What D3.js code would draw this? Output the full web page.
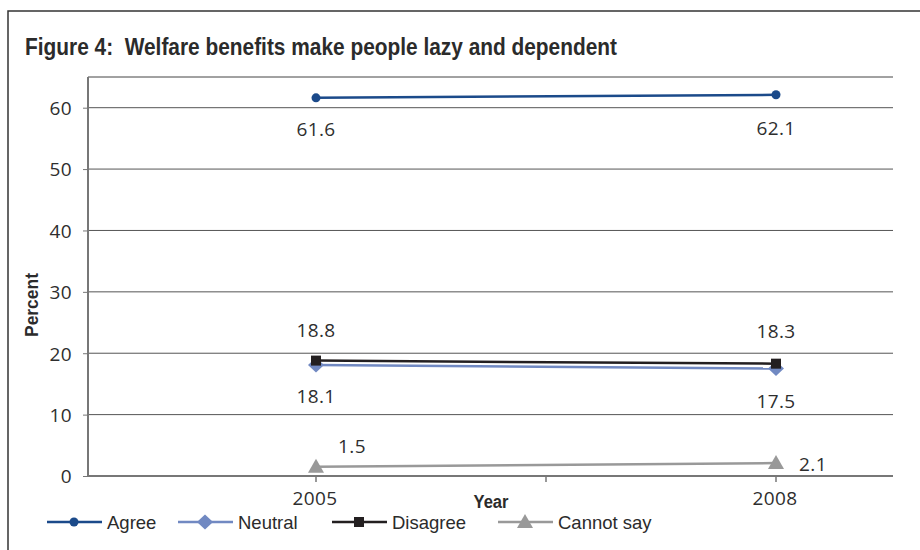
<!DOCTYPE html>
<html>
<head>
<meta charset="utf-8">
<script src="https://cdn.jsdelivr.net/npm/d3@7"></script>
<style>
  html, body { margin: 0; padding: 0; background: #fff; }
  svg { display: block; }
  text { font-family: "Liberation Sans", Arial, sans-serif; fill: #2b2b2b; }
  .num { font-family: "Open Sans", "Liberation Sans", sans-serif; font-size: 19px; fill: #2e2e2e; letter-spacing: 0.4px; }
</style>
</head>
<body>
<svg id="chart" width="920" height="550"></svg>
<script>
// Survey years and responses (percent)
const years = ["2005", "2008"];
const agree = [61.6, 62.1];
const neutral = [18.1, 17.5];
const disagree = [18.8, 18.3];
const cannotSay = [1.5, 2.1];
const yTicks = [0, 10, 20, 30, 40, 50, 60];
const seriesNames = ["Agree", "Neutral", "Disagree", "Cannot say"];

// label offsets relative to each point: [dx, dy] per year
const series = [
  { name: seriesNames[0], values: agree, color: "#1b4a8a", marker: "circle", anchor: "middle", offsets: [[0, 38], [0, 40]] },
  { name: seriesNames[1], values: neutral, color: "#7189c2", marker: "diamond", anchor: "middle", offsets: [[0, 38.5], [0, 39.5]] },
  { name: seriesNames[2], values: disagree, color: "#231f20", marker: "square", anchor: "middle", offsets: [[0, -23.5], [0, -25.5]] },
  { name: seriesNames[3], values: cannotSay, color: "#999999", marker: "triangle", anchor: "start", offsets: [[22, -14], [23, 8]] }
];

const svg = d3.select("#chart");

// outer frame
svg.append("rect").attr("x", 8).attr("y", 11).attr("width", 930).attr("height", 560)
  .attr("fill", "none").attr("stroke", "#333").attr("stroke-width", 1.5);

// title
svg.append("text")
  .attr("x", 25).attr("y", 55)
  .attr("font-size", 24).attr("font-weight", "bold")
  .attr("fill", "#231f20")
  .style("white-space", "pre")
  .attr("textLength", 592).attr("lengthAdjust", "spacingAndGlyphs")
  .text("Figure 4:\u00a0\u00a0Welfare benefits make people lazy and dependent");

const plot = { left: 88, right: 893, top: 77, bottom: 476 };

const y = d3.scaleLinear().domain([0, 65]).range([plot.bottom, plot.top]);
const x = d3.scalePoint().domain(years).range([316, 776]);

// gridlines
svg.append("g").selectAll("line").data(yTicks.filter(d => d > 0)).join("line")
  .attr("x1", plot.left).attr("x2", plot.right)
  .attr("y1", d => y(d)).attr("y2", d => y(d))
  .attr("stroke", "#555").attr("stroke-width", 1);
// top border of plot area
svg.append("line").attr("x1", plot.left).attr("x2", plot.right)
  .attr("y1", plot.top).attr("y2", plot.top)
  .attr("stroke", "#444").attr("stroke-width", 1);

// y axis
const yAxis = d3.axisLeft(y).tickValues(yTicks).tickSize(5).tickPadding(11);
const gy = svg.append("g").attr("transform", `translate(${plot.left},0)`).call(yAxis);
gy.select(".domain").attr("stroke", "#777").attr("stroke-width", 2)
  .attr("d", `M0,${plot.top}V${plot.bottom}`);
gy.selectAll(".tick line").attr("stroke", "#777");
gy.selectAll(".tick text").attr("class", "num").attr("font-size", null).attr("font-family", null)
  .attr("fill", null).attr("dy", "0.36em");

// x axis
const gx = svg.append("g").attr("transform", `translate(0,${plot.bottom})`);
gx.append("line").attr("x1", plot.left).attr("x2", plot.right)
  .attr("stroke", "#777").attr("stroke-width", 2);
const midX = (x(years[0]) + x(years[1])) / 2;
gx.selectAll("line.tk").data([x(years[0]), midX, x(years[1])]).join("line")
  .attr("class", "tk").attr("x1", d => d).attr("x2", d => d)
  .attr("y1", 0).attr("y2", 6).attr("stroke", "#777").attr("stroke-width", 1.5);
gx.selectAll("text").data(years).join("text")
  .attr("class", "num")
  .attr("x", d => x(d) - 1).attr("y", 29).attr("text-anchor", "middle")
  .text(d => d);

// axis titles
svg.append("text")
  .attr("x", 491).attr("y", 508).attr("text-anchor", "middle")
  .attr("font-size", 18).attr("font-weight", "bold").attr("fill", "#231f20")
  .attr("textLength", 35).attr("lengthAdjust", "spacingAndGlyphs").text("Year");
svg.append("text")
  .attr("transform", "translate(38,305) rotate(-90)").attr("text-anchor", "middle")
  .attr("font-size", 18).attr("font-weight", "bold").attr("fill", "#231f20")
  .attr("textLength", 64).attr("lengthAdjust", "spacingAndGlyphs").text("Percent");

// markers
function drawMarker(g, type, cx, cy, color) {
  if (type === "circle") {
    g.append("circle").attr("cx", cx).attr("cy", cy).attr("r", 4.5).attr("fill", color);
  } else if (type === "diamond") {
    g.append("path").attr("d", `M${cx},${cy - 7.5}L${cx + 8},${cy}L${cx},${cy + 7.5}L${cx - 8},${cy}Z`).attr("fill", color);
  } else if (type === "square") {
    g.append("rect").attr("x", cx - 5).attr("y", cy - 5).attr("width", 10).attr("height", 10).attr("fill", color);
  } else if (type === "triangle") {
    g.append("path").attr("d", `M${cx},${cy - 8}L${cx + 8},${cy + 6}L${cx - 8},${cy + 6}Z`).attr("fill", color);
  }
}

const line = d3.line().x((d, i) => x(years[i])).y(d => y(d));
series.forEach(s => {
  const g = svg.append("g");
  g.append("path").datum(s.values).attr("d", line)
    .attr("fill", "none").attr("stroke", s.color).attr("stroke-width", 2.5);
  s.values.forEach((v, i) => drawMarker(g, s.marker, x(years[i]), y(v), s.color));
  s.values.forEach((v, i) => {
    const [dx, dy] = s.offsets[i];
    g.append("text").attr("class", "num")
      .attr("x", x(years[i]) + dx).attr("y", y(v) + dy).attr("text-anchor", s.anchor)
      .text(v.toFixed(1));
  });
});

// legend
const legendX = [47, 178, 332, 498];
const lg = svg.append("g");
series.forEach((s, i) => {
  const lx = legendX[i], ly = 522;
  lg.append("line").attr("x1", lx).attr("x2", lx + 55).attr("y1", ly).attr("y2", ly)
    .attr("stroke", s.color).attr("stroke-width", 2.5);
  drawMarker(lg, s.marker, lx + 27, ly, s.color);
  lg.append("text").attr("x", lx + 60).attr("y", ly + 7)
    .attr("font-size", 18.5).attr("fill", "#2b2b2b").text(s.name);
});
</script>
</body>
</html>
